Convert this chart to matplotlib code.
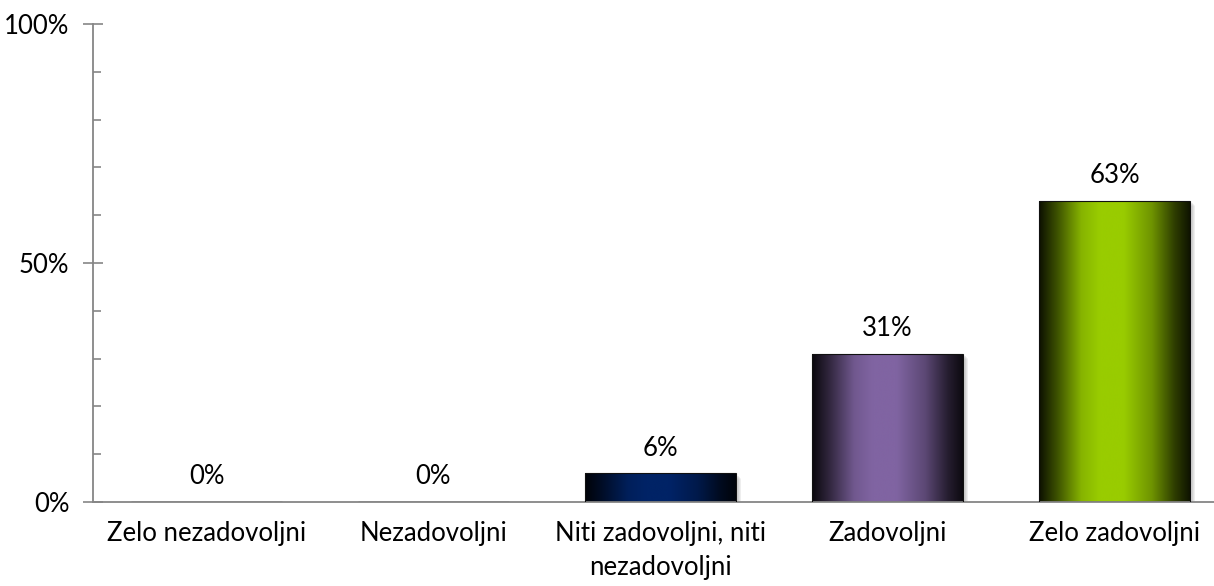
import numpy as np
import matplotlib.pyplot as plt
from matplotlib.colors import LinearSegmentedColormap, to_rgb
from matplotlib.ticker import MultipleLocator, PercentFormatter

# Data
categories = ["Zelo nezadovoljni", "Nezadovoljni", "Niti zadovoljni, niti\nnezadovoljni",
              "Zadovoljni", "Zelo zadovoljni"]
values = [0, 0, 6, 31, 63]
bar_colors = ["#1F3A7A", "#3A4F8F", "#002366", "#8064A2", "#99CC00"]

plt.rcParams['font.family'] = ['Lato', 'DejaVu Sans']
fs = 18.5

fig = plt.figure(figsize=(12.14, 5.86), dpi=100)
# axes runs a bit past the right edge like in the original
ax = fig.add_axes([93 / 1214, 84 / 586, 1135 / 1214, 478 / 586])

x = np.arange(len(categories))
bars = ax.bar(x, values, width=0.665, color="none", edgecolor="#111111", linewidth=0.8, zorder=3)


def shade(c, k):
    r, g, b = to_rgb(c)
    return (r * k, g * k, b * k)


# horizontal gradient: dark at the edges, bright in the middle
grad = np.linspace(0, 1, 256).reshape(1, -1)
for b, c in zip(bars, bar_colors):
    if b.get_height() <= 0:
        continue
    cmap = LinearSegmentedColormap.from_list(
        "g", [(0.0, shade(c, 0.08)), (0.12, shade(c, 0.4)), (0.28, shade(c, 0.88)),
              (0.4, c), (0.56, c), (0.75, shade(c, 0.72)), (0.9, shade(c, 0.3)), (1.0, shade(c, 0.1))])
    x0, y0 = b.get_x(), b.get_y()
    w, h = b.get_width(), b.get_height()
    # soft shadow to the lower right
    for i, a in enumerate([0.10, 0.08, 0.06, 0.04]):
        ax.bar(x0 + w / 2 + 0.012 + 0.004 * i, h, width=w, bottom=-0.5 - 0.2 * i,
               color="#555555", alpha=a, zorder=1, linewidth=0)
    im = ax.imshow(grad, cmap=cmap, aspect="auto", extent=[x0, x0 + w, y0, y0 + h],
                   zorder=2, interpolation="bicubic")
    im.set_clip_path(b)

for xi, v in zip(x, values):
    ax.annotate(f"{v}%", (xi, v), xytext=(0, 9), textcoords="offset points",
                ha="center", va="bottom", fontsize=fs)

ax.set_xlim(-0.5, 4.5)
ax.set_ylim(0, 100)
ax.yaxis.set_major_locator(MultipleLocator(50))
ax.yaxis.set_minor_locator(MultipleLocator(10))
ax.yaxis.set_major_formatter(PercentFormatter(decimals=0))
ax.tick_params(axis="y", which="major", direction="inout", length=14, width=1.2,
               color="#868686", labelsize=fs, pad=10)
ax.tick_params(axis="y", which="minor", direction="in", length=6, width=1.2, color="#868686")
ax.set_xticks(x)
ax.set_xticklabels(categories, fontsize=fs, linespacing=1.45)
ax.tick_params(axis="x", length=0, pad=14)

for s in ["top", "right"]:
    ax.spines[s].set_visible(False)
for s in ["left", "bottom"]:
    ax.spines[s].set_color("#868686")
    ax.spines[s].set_linewidth(1.3)

fig.savefig("out.png", dpi=100)
